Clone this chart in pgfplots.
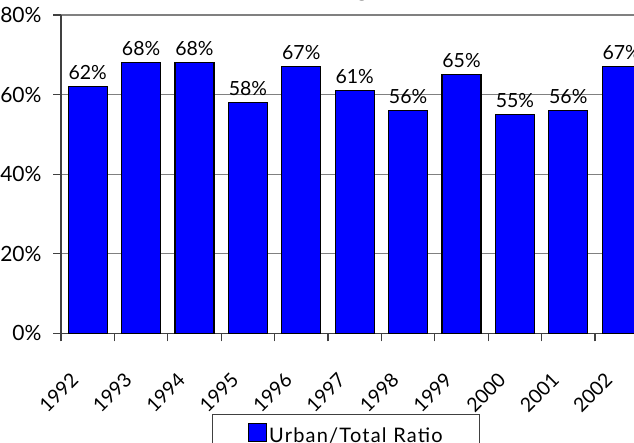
\documentclass[border=0pt]{standalone}
\usepackage{pgfplots}
\pgfplotsset{compat=1.18}
\usepackage{fontspec}
\setmainfont{Lato}
\definecolor{barblue}{RGB}{0,0,255}
\begin{document}
\begin{tikzpicture}
\begin{scope}
\clip (-61pt,-108.7pt) rectangle (573pt,333.3pt);
\begin{axis}[
  at={(0pt,0pt)}, anchor=south west,
  scale only axis, width=587.4pt, height=318.3pt,
  xmin=-0.5, xmax=10.5, ymin=0, ymax=80,
  axis x line*=bottom, axis y line*=left,
  axis line style={black!75, line width=1.3pt, -},
  /pgf/number format/assume math mode=true,
  ybar, bar width=39pt,
  xtick={0,...,10},
  xticklabels={1992,1993,1994,1995,1996,1997,1998,1999,2000,2001,2002},
  minor xtick={-0.5,0.5,...,10.5},
  major x tick style={draw=none},
  minor x tick style={black!75, line width=1.3pt},
  ytick={0,20,40,60,80},
  yticklabel={\pgfmathprintnumber{\tick}\%},
  y tick style={black!75, line width=1.3pt},
  tick align=outside,
  major tick length=8pt, minor tick length=8pt,
  ymajorgrids,
  major grid style={black!50, line width=1.3pt},
  yticklabel style={font=\fontsize{21}{21}\selectfont, anchor=east, inner sep=0pt, xshift=-11.3pt},
  xticklabel style={font=\fontsize{19.5}{19.5}\selectfont, xshift=-18pt, yshift=-30pt, rotate=45, anchor=north east, inner sep=0pt},
  nodes near coords={\pgfmathprintnumber{\pgfplotspointmeta}\%},
  nodes near coords style={font=\fontsize{19.5}{19.5}\selectfont, inner sep=0pt, yshift=6pt, black},
  title={Urban Mileage Ratio},
  title style={font=\bfseries\fontsize{24}{24}\selectfont, at={(0.4648,1)}, anchor=base, yshift=12.5pt},
  legend style={at={(0.4847,-0.2535)}, anchor=north, draw=black!75, line width=1pt,
    inner xsep=22pt, inner ysep=9pt, font=\fontsize{20}{20}\selectfont\addfontfeatures{LetterSpace=6},
    nodes={inner sep=0pt, text width=188pt}},
  legend image code/.code={
    \path[draw=none, fill=none] (-14pt,0pt) -- (21pt,0pt);
    \draw[fill=barblue, draw=black, line width=1pt] (0pt,-6pt) rectangle (18pt,12pt);
  },
]
\addplot[fill=barblue, draw=black, line width=1.2pt] coordinates {
  (0,62) (1,68) (2,68) (3,58) (4,67) (5,61) (6,56) (7,65) (8,55) (9,56) (10,67)
};
\legend{Urban/Total Ratio}
\end{axis}
\end{scope}
\pgfresetboundingbox
\path[use as bounding box] (-61pt,-108.7pt) rectangle (573pt,333.3pt);
\end{tikzpicture}
\end{document}
